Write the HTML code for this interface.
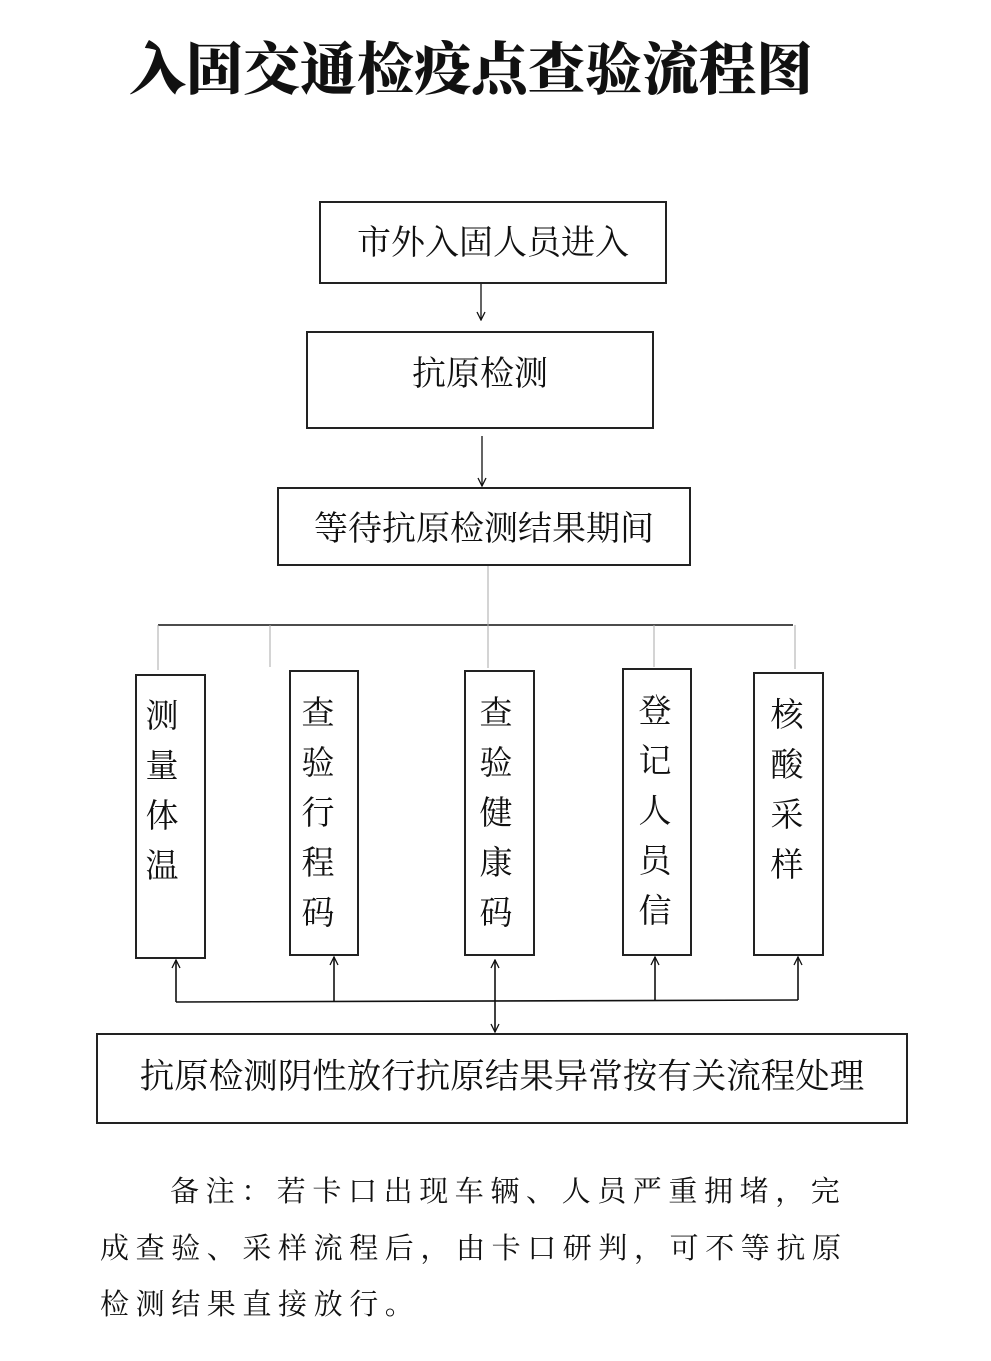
<!DOCTYPE html>
<html><head><meta charset="utf-8"><style>
body{margin:0;background:#fff;width:991px;height:1356px;overflow:hidden}
svg text{font-family:"Liberation Serif","Noto Serif CJK SC",serif;fill:#111}
</style></head><body>
<svg width="991" height="1356" viewBox="0 0 991 1356" xmlns="http://www.w3.org/2000/svg">
<defs>
<marker id="a" markerWidth="10" markerHeight="10" refX="9" refY="5" orient="auto-start-reverse" markerUnits="userSpaceOnUse">
<path d="M1,1 L9,5 L1,9" fill="none" stroke="#111" stroke-width="1.3"/>
</marker>
</defs>
<text x="471" y="89" text-anchor="middle" style="font-family:'Noto Serif CJK SC',serif;font-weight:900;font-size:57px">入固交通检疫点查验流程图</text>
<g fill="none" stroke="#222" stroke-width="2">
<rect x="320" y="202" width="346" height="81"/>
<rect x="307" y="332" width="346" height="96"/>
<rect x="278" y="488" width="412" height="77"/>
<rect x="136" y="675" width="69" height="283"/>
<rect x="290" y="671" width="68" height="284"/>
<rect x="465" y="671" width="69" height="284"/>
<rect x="623" y="669" width="68" height="286"/>
<rect x="754" y="673" width="69" height="282"/>
<rect x="97" y="1034" width="810" height="89"/>
</g>
<g stroke="#111" stroke-width="1.3" fill="none">
<line x1="481" y1="284" x2="481" y2="320" marker-end="url(#a)"/>
<line x1="482" y1="436" x2="482" y2="486" marker-end="url(#a)"/>
<line x1="158" y1="625" x2="793" y2="625" stroke-width="1.6"/>
</g>
<g stroke="#aaa" stroke-width="1">
<line x1="488" y1="566" x2="488" y2="625"/>
<line x1="158" y1="625" x2="158" y2="670"/>
<line x1="270" y1="625" x2="270" y2="667"/>
<line x1="488" y1="625" x2="488" y2="668"/>
<line x1="654" y1="625" x2="654" y2="667"/>
<line x1="795" y1="625" x2="795" y2="669"/>
</g>
<g stroke="#111" stroke-width="1.6" fill="none">
<polyline points="176,1002 798,1000"/>
<line x1="176" y1="1002" x2="176" y2="960" marker-end="url(#a)"/>
<line x1="334" y1="1002" x2="334" y2="957" marker-end="url(#a)"/>
<line x1="655" y1="1001" x2="655" y2="957" marker-end="url(#a)"/>
<line x1="798" y1="1000" x2="798" y2="957" marker-end="url(#a)"/>
<line x1="495" y1="960" x2="495" y2="1032" marker-start="url(#a)" marker-end="url(#a)"/>
</g>
<g font-size="34" text-anchor="middle">
<text x="493" y="254">市外入固人员进入</text>
<text x="480" y="385">抗原检测</text>
<text x="484" y="540">等待抗原检测结果期间</text>
</g>
<g font-size="33" text-anchor="middle">
<text x="162" y="727">测</text><text x="162" y="777">量</text><text x="162" y="827">体</text><text x="162" y="877">温</text>
<text x="318" y="724">查</text><text x="318" y="774">验</text><text x="318" y="824">行</text><text x="318" y="874">程</text><text x="318" y="924">码</text>
<text x="496" y="724">查</text><text x="496" y="774">验</text><text x="496" y="824">健</text><text x="496" y="874">康</text><text x="496" y="924">码</text>
<text x="655" y="722">登</text><text x="655" y="772">记</text><text x="655" y="822">人</text><text x="655" y="872">员</text><text x="655" y="922">信</text>
<text x="787" y="726">核</text><text x="787" y="776">酸</text><text x="787" y="826">采</text><text x="787" y="876">样</text>
</g>
<text x="502" y="1088" font-size="34.5" text-anchor="middle">抗原检测阴性放行抗原结果异常按有关流程处理</text>
<g style="font-size:29px;letter-spacing:6.6px">
<text x="170" y="1201">备注：若卡口出现车辆、人员严重拥堵，完</text>
<text x="100" y="1258">成查验、采样流程后，由卡口研判，可不等抗原</text>
<text x="100" y="1314">检测结果直接放行。</text>
</g>
</svg>
</body></html>
